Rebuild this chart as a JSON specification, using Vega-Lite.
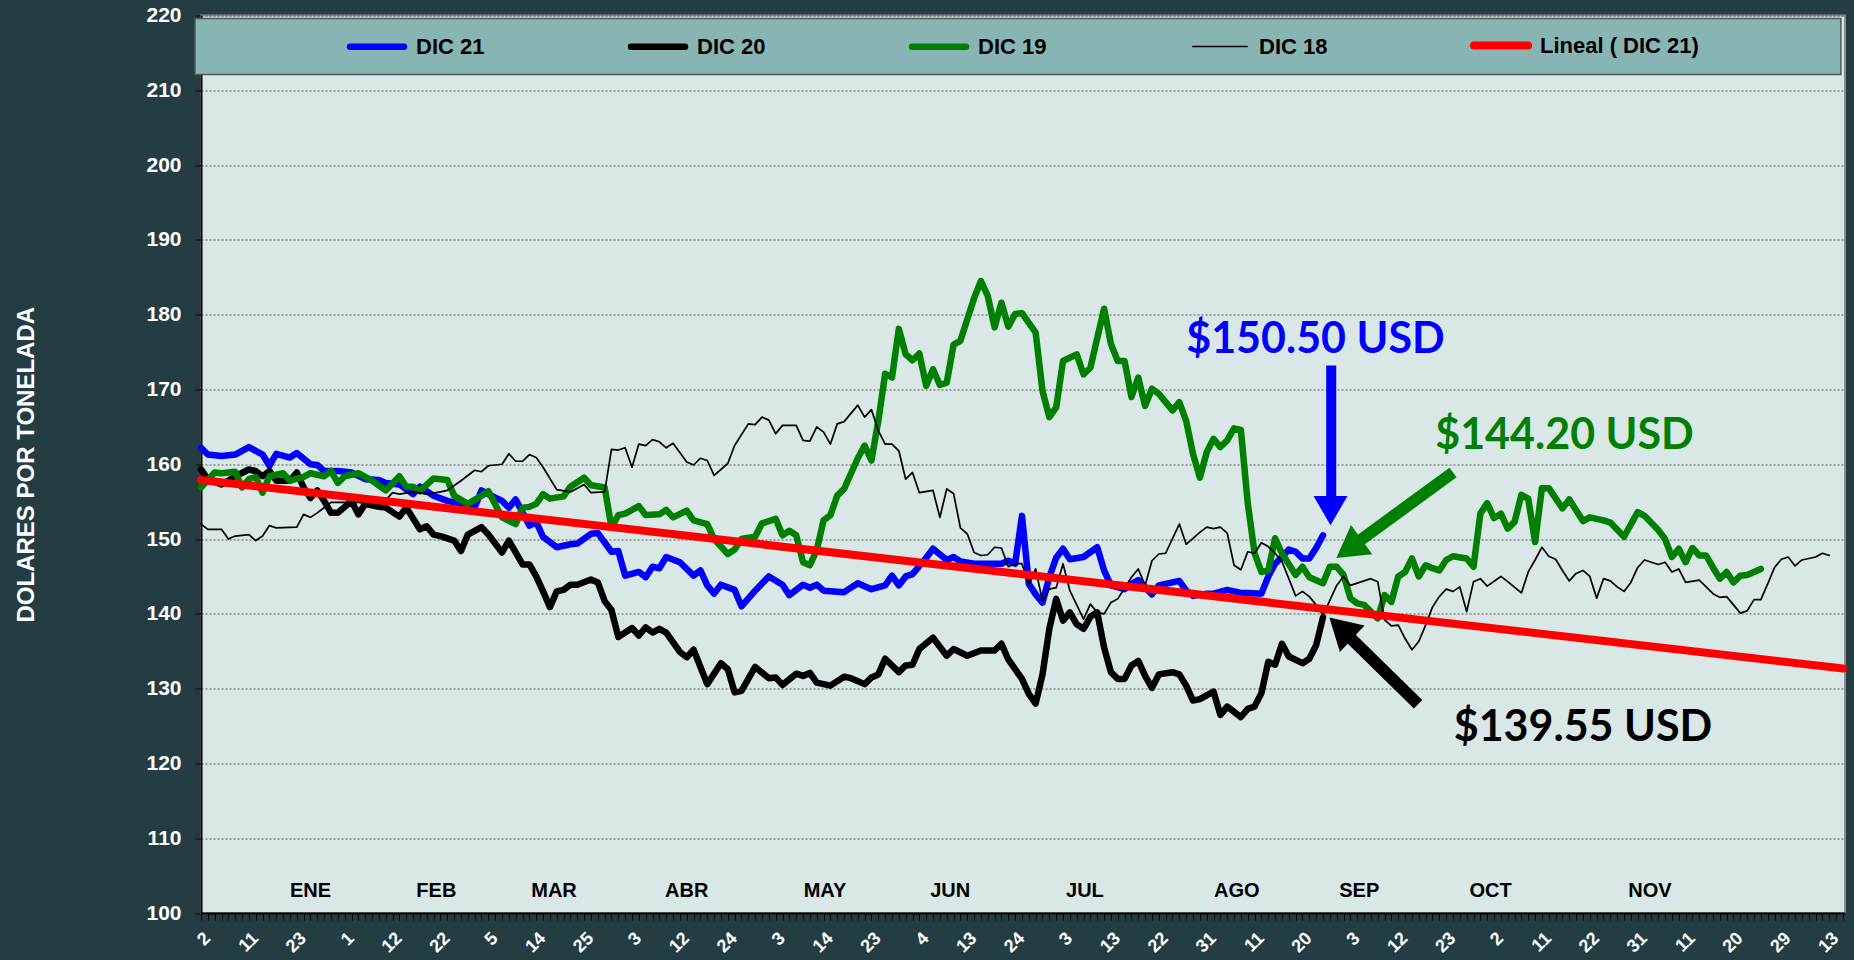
{
  "$schema": "https://vega.github.io/schema/vega-lite/v6.json",
  "autosize": {"type": "none"},
  "width": 1644,
  "height": 897.5,
  "padding": {"left": 201, "top": 15.5, "right": 9, "bottom": 47},
  "background": "#233d42",
  "config": {
    "font": "Liberation Sans",
    "view": {"fill": "#d9e7e6", "stroke": "#8c8c8c", "strokeWidth": 2},
    "axisX": {"labelOverlap": false, "grid": false, "labelFlush": false, "labelBound": false, "tickCount": 1000},
    "legend": {
      "orient": "none", "legendX": 145, "legendY": -1, "direction": "horizontal", "columns": 5,
      "gridAlign": "all", "columnPadding": 40, "symbolType": "stroke", "symbolSize": 2916,
      "labelFont": "Liberation Sans", "labelFontSize": 22, "labelFontWeight": "bold", "labelColor": "#000000",
      "labelOffset": 8, "padding": 0, "labelLimit": 400
    }
  },
  "data": {"values": [
    {"s":"DIC 21","i":0,"v":162.2},{"s":"DIC 21","i":1,"v":161.3},{"s":"DIC 21","i":3,"v":161.1},{"s":"DIC 21","i":5,"v":161.3},{"s":"DIC 21","i":7,"v":162.3},{"s":"DIC 21","i":9,"v":161.3},{"s":"DIC 21","i":10,"v":159.8},{"s":"DIC 21","i":11,"v":161.4},{"s":"DIC 21","i":13,"v":160.9},{"s":"DIC 21","i":14,"v":161.5},{"s":"DIC 21","i":16,"v":160.0},{"s":"DIC 21","i":17,"v":159.9},{"s":"DIC 21","i":18,"v":159.1},{"s":"DIC 21","i":20,"v":159.1},{"s":"DIC 21","i":22,"v":158.9},{"s":"DIC 21","i":24,"v":158.0},{"s":"DIC 21","i":26,"v":157.9},{"s":"DIC 21","i":27,"v":157.5},{"s":"DIC 21","i":29,"v":157.3},{"s":"DIC 21","i":31,"v":156.0},{"s":"DIC 21","i":32,"v":157.0},{"s":"DIC 21","i":34,"v":155.8},{"s":"DIC 21","i":36,"v":155.1},{"s":"DIC 21","i":38,"v":154.7},{"s":"DIC 21","i":40,"v":154.2},{"s":"DIC 21","i":41,"v":156.5},{"s":"DIC 21","i":42,"v":156.0},{"s":"DIC 21","i":44,"v":155.1},{"s":"DIC 21","i":45,"v":154.2},{"s":"DIC 21","i":46,"v":155.3},{"s":"DIC 21","i":48,"v":151.8},{"s":"DIC 21","i":49,"v":152.3},{"s":"DIC 21","i":50,"v":150.3},{"s":"DIC 21","i":52,"v":148.9},{"s":"DIC 21","i":54,"v":149.3},{"s":"DIC 21","i":55,"v":149.4},{"s":"DIC 21","i":57,"v":150.7},{"s":"DIC 21","i":58,"v":150.8},{"s":"DIC 21","i":60,"v":148.3},{"s":"DIC 21","i":61,"v":148.4},{"s":"DIC 21","i":62,"v":145.1},{"s":"DIC 21","i":64,"v":145.6},{"s":"DIC 21","i":65,"v":144.9},{"s":"DIC 21","i":66,"v":146.3},{"s":"DIC 21","i":67,"v":146.1},{"s":"DIC 21","i":68,"v":147.6},{"s":"DIC 21","i":70,"v":146.9},{"s":"DIC 21","i":72,"v":145.1},{"s":"DIC 21","i":73,"v":145.8},{"s":"DIC 21","i":74,"v":143.8},{"s":"DIC 21","i":75,"v":142.7},{"s":"DIC 21","i":76,"v":143.9},{"s":"DIC 21","i":78,"v":143.2},{"s":"DIC 21","i":79,"v":141.0},{"s":"DIC 21","i":81,"v":143.1},{"s":"DIC 21","i":83,"v":145.0},{"s":"DIC 21","i":85,"v":143.9},{"s":"DIC 21","i":86,"v":142.5},{"s":"DIC 21","i":88,"v":143.9},{"s":"DIC 21","i":89,"v":143.5},{"s":"DIC 21","i":90,"v":143.9},{"s":"DIC 21","i":91,"v":143.1},{"s":"DIC 21","i":94,"v":142.9},{"s":"DIC 21","i":96,"v":144.1},{"s":"DIC 21","i":98,"v":143.3},{"s":"DIC 21","i":100,"v":143.8},{"s":"DIC 21","i":101,"v":145.1},{"s":"DIC 21","i":102,"v":143.8},{"s":"DIC 21","i":103,"v":145.0},{"s":"DIC 21","i":104,"v":145.3},{"s":"DIC 21","i":106,"v":147.5},{"s":"DIC 21","i":107,"v":148.7},{"s":"DIC 21","i":109,"v":147.2},{"s":"DIC 21","i":110,"v":147.6},{"s":"DIC 21","i":111,"v":147.0},{"s":"DIC 21","i":113,"v":146.7},{"s":"DIC 21","i":115,"v":146.7},{"s":"DIC 21","i":117,"v":146.7},{"s":"DIC 21","i":118,"v":147.1},{"s":"DIC 21","i":119,"v":146.7},{"s":"DIC 21","i":120,"v":153.1},{"s":"DIC 21","i":121,"v":144.0},{"s":"DIC 21","i":122,"v":142.6},{"s":"DIC 21","i":123,"v":141.5},{"s":"DIC 21","i":124,"v":144.9},{"s":"DIC 21","i":125,"v":147.5},{"s":"DIC 21","i":126,"v":148.7},{"s":"DIC 21","i":127,"v":147.3},{"s":"DIC 21","i":129,"v":147.6},{"s":"DIC 21","i":131,"v":148.9},{"s":"DIC 21","i":132,"v":145.8},{"s":"DIC 21","i":133,"v":143.8},{"s":"DIC 21","i":135,"v":143.3},{"s":"DIC 21","i":136,"v":144.0},{"s":"DIC 21","i":137,"v":144.5},{"s":"DIC 21","i":139,"v":142.6},{"s":"DIC 21","i":140,"v":143.8},{"s":"DIC 21","i":143,"v":144.4},{"s":"DIC 21","i":144,"v":143.1},{"s":"DIC 21","i":145,"v":142.4},{"s":"DIC 21","i":147,"v":142.7},{"s":"DIC 21","i":148,"v":142.7},{"s":"DIC 21","i":150,"v":143.2},{"s":"DIC 21","i":152,"v":142.8},{"s":"DIC 21","i":153,"v":142.8},{"s":"DIC 21","i":155,"v":142.7},{"s":"DIC 21","i":156,"v":145.0},{"s":"DIC 21","i":157,"v":146.7},{"s":"DIC 21","i":158,"v":147.6},{"s":"DIC 21","i":159,"v":148.6},{"s":"DIC 21","i":160,"v":148.3},{"s":"DIC 21","i":161,"v":147.4},{"s":"DIC 21","i":162,"v":147.4},{"s":"DIC 21","i":163,"v":148.8},{"s":"DIC 21","i":164,"v":150.5},
    {"s":"DIC 20","i":0,"v":159.3},{"s":"DIC 20","i":1,"v":158.0},{"s":"DIC 20","i":3,"v":157.3},{"s":"DIC 20","i":4,"v":157.8},{"s":"DIC 20","i":5,"v":158.4},{"s":"DIC 20","i":7,"v":159.3},{"s":"DIC 20","i":8,"v":159.1},{"s":"DIC 20","i":9,"v":158.4},{"s":"DIC 20","i":10,"v":159.1},{"s":"DIC 20","i":11,"v":157.8},{"s":"DIC 20","i":13,"v":157.8},{"s":"DIC 20","i":14,"v":158.9},{"s":"DIC 20","i":15,"v":156.9},{"s":"DIC 20","i":16,"v":155.5},{"s":"DIC 20","i":17,"v":156.5},{"s":"DIC 20","i":18,"v":155.1},{"s":"DIC 20","i":19,"v":153.5},{"s":"DIC 20","i":20,"v":153.5},{"s":"DIC 20","i":22,"v":155.1},{"s":"DIC 20","i":23,"v":153.3},{"s":"DIC 20","i":24,"v":154.7},{"s":"DIC 20","i":26,"v":154.3},{"s":"DIC 20","i":27,"v":154.2},{"s":"DIC 20","i":29,"v":153.0},{"s":"DIC 20","i":30,"v":154.2},{"s":"DIC 20","i":32,"v":151.3},{"s":"DIC 20","i":33,"v":151.7},{"s":"DIC 20","i":34,"v":150.6},{"s":"DIC 20","i":35,"v":150.4},{"s":"DIC 20","i":37,"v":149.8},{"s":"DIC 20","i":38,"v":148.4},{"s":"DIC 20","i":39,"v":150.6},{"s":"DIC 20","i":41,"v":151.6},{"s":"DIC 20","i":42,"v":150.6},{"s":"DIC 20","i":44,"v":148.2},{"s":"DIC 20","i":45,"v":149.8},{"s":"DIC 20","i":47,"v":146.6},{"s":"DIC 20","i":48,"v":146.6},{"s":"DIC 20","i":49,"v":145.0},{"s":"DIC 20","i":50,"v":143.0},{"s":"DIC 20","i":51,"v":140.9},{"s":"DIC 20","i":52,"v":143.0},{"s":"DIC 20","i":53,"v":143.2},{"s":"DIC 20","i":54,"v":143.9},{"s":"DIC 20","i":55,"v":143.9},{"s":"DIC 20","i":57,"v":144.6},{"s":"DIC 20","i":58,"v":144.2},{"s":"DIC 20","i":59,"v":141.7},{"s":"DIC 20","i":60,"v":140.5},{"s":"DIC 20","i":61,"v":136.9},{"s":"DIC 20","i":63,"v":138.1},{"s":"DIC 20","i":64,"v":137.1},{"s":"DIC 20","i":65,"v":138.2},{"s":"DIC 20","i":66,"v":137.5},{"s":"DIC 20","i":67,"v":138.0},{"s":"DIC 20","i":68,"v":137.5},{"s":"DIC 20","i":70,"v":134.9},{"s":"DIC 20","i":71,"v":134.2},{"s":"DIC 20","i":72,"v":135.2},{"s":"DIC 20","i":74,"v":130.6},{"s":"DIC 20","i":76,"v":133.4},{"s":"DIC 20","i":77,"v":132.6},{"s":"DIC 20","i":78,"v":129.5},{"s":"DIC 20","i":79,"v":129.7},{"s":"DIC 20","i":81,"v":132.9},{"s":"DIC 20","i":83,"v":131.4},{"s":"DIC 20","i":84,"v":131.5},{"s":"DIC 20","i":85,"v":130.5},{"s":"DIC 20","i":87,"v":132.0},{"s":"DIC 20","i":88,"v":131.7},{"s":"DIC 20","i":89,"v":132.1},{"s":"DIC 20","i":90,"v":130.8},{"s":"DIC 20","i":92,"v":130.4},{"s":"DIC 20","i":94,"v":131.6},{"s":"DIC 20","i":95,"v":131.4},{"s":"DIC 20","i":97,"v":130.6},{"s":"DIC 20","i":98,"v":131.5},{"s":"DIC 20","i":99,"v":131.9},{"s":"DIC 20","i":100,"v":134.0},{"s":"DIC 20","i":102,"v":132.2},{"s":"DIC 20","i":103,"v":133.1},{"s":"DIC 20","i":104,"v":133.2},{"s":"DIC 20","i":105,"v":135.3},{"s":"DIC 20","i":107,"v":136.8},{"s":"DIC 20","i":109,"v":134.4},{"s":"DIC 20","i":110,"v":135.3},{"s":"DIC 20","i":112,"v":134.4},{"s":"DIC 20","i":114,"v":135.1},{"s":"DIC 20","i":116,"v":135.1},{"s":"DIC 20","i":117,"v":136.0},{"s":"DIC 20","i":118,"v":133.9},{"s":"DIC 20","i":120,"v":131.3},{"s":"DIC 20","i":121,"v":129.3},{"s":"DIC 20","i":122,"v":128.0},{"s":"DIC 20","i":123,"v":131.9},{"s":"DIC 20","i":124,"v":138.0},{"s":"DIC 20","i":125,"v":142.0},{"s":"DIC 20","i":126,"v":139.1},{"s":"DIC 20","i":127,"v":140.2},{"s":"DIC 20","i":128,"v":138.6},{"s":"DIC 20","i":129,"v":138.0},{"s":"DIC 20","i":130,"v":139.6},{"s":"DIC 20","i":131,"v":140.2},{"s":"DIC 20","i":132,"v":135.5},{"s":"DIC 20","i":133,"v":132.2},{"s":"DIC 20","i":134,"v":131.3},{"s":"DIC 20","i":135,"v":131.3},{"s":"DIC 20","i":136,"v":133.1},{"s":"DIC 20","i":137,"v":133.7},{"s":"DIC 20","i":138,"v":131.7},{"s":"DIC 20","i":139,"v":130.1},{"s":"DIC 20","i":140,"v":131.9},{"s":"DIC 20","i":142,"v":132.2},{"s":"DIC 20","i":143,"v":131.9},{"s":"DIC 20","i":144,"v":130.4},{"s":"DIC 20","i":145,"v":128.4},{"s":"DIC 20","i":146,"v":128.6},{"s":"DIC 20","i":148,"v":129.6},{"s":"DIC 20","i":149,"v":126.5},{"s":"DIC 20","i":150,"v":127.6},{"s":"DIC 20","i":152,"v":126.2},{"s":"DIC 20","i":153,"v":127.3},{"s":"DIC 20","i":154,"v":127.6},{"s":"DIC 20","i":155,"v":129.4},{"s":"DIC 20","i":156,"v":133.6},{"s":"DIC 20","i":157,"v":133.2},{"s":"DIC 20","i":158,"v":136.0},{"s":"DIC 20","i":159,"v":134.3},{"s":"DIC 20","i":161,"v":133.4},{"s":"DIC 20","i":162,"v":134.0},{"s":"DIC 20","i":163,"v":135.8},{"s":"DIC 20","i":164,"v":139.55},
    {"s":"DIC 19","i":0,"v":156.9},{"s":"DIC 19","i":2,"v":158.9},{"s":"DIC 19","i":3,"v":158.8},{"s":"DIC 19","i":5,"v":159.0},{"s":"DIC 19","i":6,"v":156.9},{"s":"DIC 19","i":7,"v":158.0},{"s":"DIC 19","i":8,"v":158.3},{"s":"DIC 19","i":9,"v":156.2},{"s":"DIC 19","i":10,"v":158.4},{"s":"DIC 19","i":12,"v":158.8},{"s":"DIC 19","i":13,"v":157.8},{"s":"DIC 19","i":15,"v":158.3},{"s":"DIC 19","i":16,"v":158.8},{"s":"DIC 19","i":18,"v":158.4},{"s":"DIC 19","i":19,"v":159.1},{"s":"DIC 19","i":20,"v":157.5},{"s":"DIC 19","i":21,"v":158.4},{"s":"DIC 19","i":23,"v":158.8},{"s":"DIC 19","i":25,"v":157.8},{"s":"DIC 19","i":27,"v":156.5},{"s":"DIC 19","i":29,"v":158.4},{"s":"DIC 19","i":30,"v":157.0},{"s":"DIC 19","i":31,"v":157.0},{"s":"DIC 19","i":32,"v":156.4},{"s":"DIC 19","i":34,"v":158.1},{"s":"DIC 19","i":36,"v":157.9},{"s":"DIC 19","i":37,"v":155.8},{"s":"DIC 19","i":39,"v":154.7},{"s":"DIC 19","i":41,"v":155.8},{"s":"DIC 19","i":42,"v":156.4},{"s":"DIC 19","i":44,"v":152.9},{"s":"DIC 19","i":46,"v":152.0},{"s":"DIC 19","i":47,"v":154.2},{"s":"DIC 19","i":48,"v":154.3},{"s":"DIC 19","i":49,"v":154.7},{"s":"DIC 19","i":50,"v":156.0},{"s":"DIC 19","i":51,"v":155.4},{"s":"DIC 19","i":53,"v":155.7},{"s":"DIC 19","i":54,"v":157.0},{"s":"DIC 19","i":56,"v":158.2},{"s":"DIC 19","i":57,"v":157.2},{"s":"DIC 19","i":59,"v":156.9},{"s":"DIC 19","i":60,"v":151.6},{"s":"DIC 19","i":61,"v":153.2},{"s":"DIC 19","i":62,"v":153.4},{"s":"DIC 19","i":64,"v":154.4},{"s":"DIC 19","i":65,"v":153.2},{"s":"DIC 19","i":67,"v":153.3},{"s":"DIC 19","i":68,"v":153.9},{"s":"DIC 19","i":69,"v":152.9},{"s":"DIC 19","i":71,"v":153.8},{"s":"DIC 19","i":72,"v":152.5},{"s":"DIC 19","i":74,"v":152.0},{"s":"DIC 19","i":75,"v":150.0},{"s":"DIC 19","i":77,"v":148.0},{"s":"DIC 19","i":78,"v":148.6},{"s":"DIC 19","i":79,"v":150.0},{"s":"DIC 19","i":81,"v":150.3},{"s":"DIC 19","i":82,"v":152.1},{"s":"DIC 19","i":84,"v":152.7},{"s":"DIC 19","i":85,"v":150.5},{"s":"DIC 19","i":86,"v":151.1},{"s":"DIC 19","i":87,"v":150.5},{"s":"DIC 19","i":88,"v":146.9},{"s":"DIC 19","i":89,"v":146.5},{"s":"DIC 19","i":90,"v":148.5},{"s":"DIC 19","i":91,"v":152.5},{"s":"DIC 19","i":92,"v":153.2},{"s":"DIC 19","i":93,"v":155.8},{"s":"DIC 19","i":94,"v":156.7},{"s":"DIC 19","i":96,"v":160.8},{"s":"DIC 19","i":97,"v":162.5},{"s":"DIC 19","i":98,"v":160.5},{"s":"DIC 19","i":99,"v":165.8},{"s":"DIC 19","i":100,"v":172.1},{"s":"DIC 19","i":101,"v":171.6},{"s":"DIC 19","i":102,"v":178.1},{"s":"DIC 19","i":103,"v":174.7},{"s":"DIC 19","i":104,"v":173.9},{"s":"DIC 19","i":105,"v":174.8},{"s":"DIC 19","i":106,"v":170.5},{"s":"DIC 19","i":107,"v":172.7},{"s":"DIC 19","i":108,"v":170.6},{"s":"DIC 19","i":109,"v":170.9},{"s":"DIC 19","i":110,"v":176.0},{"s":"DIC 19","i":111,"v":176.5},{"s":"DIC 19","i":113,"v":182.2},{"s":"DIC 19","i":114,"v":184.5},{"s":"DIC 19","i":115,"v":182.5},{"s":"DIC 19","i":116,"v":178.3},{"s":"DIC 19","i":117,"v":181.6},{"s":"DIC 19","i":118,"v":178.4},{"s":"DIC 19","i":119,"v":180.1},{"s":"DIC 19","i":120,"v":180.2},{"s":"DIC 19","i":122,"v":177.6},{"s":"DIC 19","i":123,"v":169.8},{"s":"DIC 19","i":124,"v":166.3},{"s":"DIC 19","i":125,"v":167.6},{"s":"DIC 19","i":126,"v":173.8},{"s":"DIC 19","i":128,"v":174.7},{"s":"DIC 19","i":129,"v":172.0},{"s":"DIC 19","i":130,"v":172.9},{"s":"DIC 19","i":132,"v":180.8},{"s":"DIC 19","i":133,"v":176.1},{"s":"DIC 19","i":134,"v":173.8},{"s":"DIC 19","i":135,"v":173.8},{"s":"DIC 19","i":136,"v":169.0},{"s":"DIC 19","i":137,"v":171.6},{"s":"DIC 19","i":138,"v":167.8},{"s":"DIC 19","i":139,"v":170.1},{"s":"DIC 19","i":140,"v":169.4},{"s":"DIC 19","i":142,"v":167.2},{"s":"DIC 19","i":143,"v":168.3},{"s":"DIC 19","i":144,"v":165.8},{"s":"DIC 19","i":145,"v":161.4},{"s":"DIC 19","i":146,"v":158.2},{"s":"DIC 19","i":147,"v":161.6},{"s":"DIC 19","i":148,"v":163.4},{"s":"DIC 19","i":149,"v":162.3},{"s":"DIC 19","i":150,"v":163.2},{"s":"DIC 19","i":151,"v":164.8},{"s":"DIC 19","i":152,"v":164.6},{"s":"DIC 19","i":153,"v":154.8},{"s":"DIC 19","i":154,"v":148.1},{"s":"DIC 19","i":155,"v":145.6},{"s":"DIC 19","i":156,"v":145.8},{"s":"DIC 19","i":157,"v":150.1},{"s":"DIC 19","i":158,"v":148.1},{"s":"DIC 19","i":160,"v":145.2},{"s":"DIC 19","i":161,"v":146.3},{"s":"DIC 19","i":162,"v":144.9},{"s":"DIC 19","i":164,"v":144.1},{"s":"DIC 19","i":165,"v":146.3},{"s":"DIC 19","i":166,"v":146.3},{"s":"DIC 19","i":167,"v":145.2},{"s":"DIC 19","i":168,"v":142.1},{"s":"DIC 19","i":169,"v":141.4},{"s":"DIC 19","i":170,"v":141.2},{"s":"DIC 19","i":171,"v":140.3},{"s":"DIC 19","i":172,"v":139.4},{"s":"DIC 19","i":173,"v":142.5},{"s":"DIC 19","i":174,"v":141.6},{"s":"DIC 19","i":175,"v":145.0},{"s":"DIC 19","i":176,"v":145.6},{"s":"DIC 19","i":177,"v":147.4},{"s":"DIC 19","i":178,"v":145.0},{"s":"DIC 19","i":179,"v":146.5},{"s":"DIC 19","i":180,"v":146.1},{"s":"DIC 19","i":181,"v":145.8},{"s":"DIC 19","i":182,"v":147.2},{"s":"DIC 19","i":183,"v":147.7},{"s":"DIC 19","i":185,"v":147.4},{"s":"DIC 19","i":186,"v":146.3},{"s":"DIC 19","i":187,"v":153.4},{"s":"DIC 19","i":188,"v":154.8},{"s":"DIC 19","i":189,"v":152.8},{"s":"DIC 19","i":190,"v":153.4},{"s":"DIC 19","i":191,"v":151.4},{"s":"DIC 19","i":192,"v":152.3},{"s":"DIC 19","i":193,"v":155.9},{"s":"DIC 19","i":194,"v":155.4},{"s":"DIC 19","i":195,"v":149.6},{"s":"DIC 19","i":196,"v":156.8},{"s":"DIC 19","i":197,"v":156.8},{"s":"DIC 19","i":199,"v":154.1},{"s":"DIC 19","i":200,"v":155.3},{"s":"DIC 19","i":202,"v":152.4},{"s":"DIC 19","i":203,"v":152.9},{"s":"DIC 19","i":205,"v":152.5},{"s":"DIC 19","i":206,"v":152.2},{"s":"DIC 19","i":208,"v":150.3},{"s":"DIC 19","i":210,"v":153.6},{"s":"DIC 19","i":211,"v":153.1},{"s":"DIC 19","i":213,"v":151.2},{"s":"DIC 19","i":214,"v":150.0},{"s":"DIC 19","i":215,"v":147.6},{"s":"DIC 19","i":216,"v":148.7},{"s":"DIC 19","i":217,"v":146.9},{"s":"DIC 19","i":218,"v":148.8},{"s":"DIC 19","i":219,"v":147.8},{"s":"DIC 19","i":220,"v":147.8},{"s":"DIC 19","i":221,"v":146.2},{"s":"DIC 19","i":222,"v":144.7},{"s":"DIC 19","i":223,"v":145.6},{"s":"DIC 19","i":224,"v":144.2},{"s":"DIC 19","i":225,"v":145.1},{"s":"DIC 19","i":226,"v":145.2},{"s":"DIC 19","i":228,"v":146.0},
    {"s":"DIC 18","i":0,"v":152.0},{"s":"DIC 18","i":1,"v":151.3},{"s":"DIC 18","i":3,"v":151.3},{"s":"DIC 18","i":4,"v":150.0},{"s":"DIC 18","i":5,"v":150.4},{"s":"DIC 18","i":7,"v":150.6},{"s":"DIC 18","i":8,"v":149.8},{"s":"DIC 18","i":9,"v":150.4},{"s":"DIC 18","i":10,"v":151.8},{"s":"DIC 18","i":11,"v":151.5},{"s":"DIC 18","i":14,"v":151.6},{"s":"DIC 18","i":15,"v":153.3},{"s":"DIC 18","i":16,"v":152.9},{"s":"DIC 18","i":17,"v":153.5},{"s":"DIC 18","i":19,"v":154.9},{"s":"DIC 18","i":21,"v":154.9},{"s":"DIC 18","i":23,"v":154.9},{"s":"DIC 18","i":25,"v":154.7},{"s":"DIC 18","i":26,"v":154.2},{"s":"DIC 18","i":28,"v":156.2},{"s":"DIC 18","i":29,"v":156.0},{"s":"DIC 18","i":31,"v":156.3},{"s":"DIC 18","i":33,"v":156.0},{"s":"DIC 18","i":35,"v":156.3},{"s":"DIC 18","i":36,"v":156.5},{"s":"DIC 18","i":38,"v":157.8},{"s":"DIC 18","i":40,"v":159.2},{"s":"DIC 18","i":41,"v":159.0},{"s":"DIC 18","i":42,"v":159.8},{"s":"DIC 18","i":44,"v":160.0},{"s":"DIC 18","i":45,"v":161.4},{"s":"DIC 18","i":46,"v":160.4},{"s":"DIC 18","i":47,"v":160.4},{"s":"DIC 18","i":48,"v":161.3},{"s":"DIC 18","i":49,"v":160.9},{"s":"DIC 18","i":50,"v":159.6},{"s":"DIC 18","i":52,"v":156.6},{"s":"DIC 18","i":54,"v":156.3},{"s":"DIC 18","i":56,"v":157.3},{"s":"DIC 18","i":57,"v":156.2},{"s":"DIC 18","i":59,"v":156.3},{"s":"DIC 18","i":60,"v":162.0},{"s":"DIC 18","i":61,"v":161.9},{"s":"DIC 18","i":62,"v":162.2},{"s":"DIC 18","i":63,"v":159.6},{"s":"DIC 18","i":64,"v":162.7},{"s":"DIC 18","i":65,"v":162.5},{"s":"DIC 18","i":66,"v":163.3},{"s":"DIC 18","i":67,"v":163.0},{"s":"DIC 18","i":68,"v":162.2},{"s":"DIC 18","i":69,"v":162.8},{"s":"DIC 18","i":71,"v":160.3},{"s":"DIC 18","i":72,"v":159.9},{"s":"DIC 18","i":73,"v":160.8},{"s":"DIC 18","i":74,"v":160.5},{"s":"DIC 18","i":75,"v":158.5},{"s":"DIC 18","i":77,"v":160.1},{"s":"DIC 18","i":78,"v":162.5},{"s":"DIC 18","i":80,"v":165.4},{"s":"DIC 18","i":81,"v":165.3},{"s":"DIC 18","i":82,"v":166.3},{"s":"DIC 18","i":83,"v":165.9},{"s":"DIC 18","i":84,"v":164.1},{"s":"DIC 18","i":85,"v":165.2},{"s":"DIC 18","i":87,"v":165.2},{"s":"DIC 18","i":88,"v":163.2},{"s":"DIC 18","i":89,"v":163.1},{"s":"DIC 18","i":90,"v":165.0},{"s":"DIC 18","i":91,"v":164.3},{"s":"DIC 18","i":92,"v":162.7},{"s":"DIC 18","i":93,"v":165.4},{"s":"DIC 18","i":94,"v":165.7},{"s":"DIC 18","i":96,"v":167.9},{"s":"DIC 18","i":97,"v":166.3},{"s":"DIC 18","i":98,"v":167.3},{"s":"DIC 18","i":99,"v":164.5},{"s":"DIC 18","i":100,"v":162.7},{"s":"DIC 18","i":101,"v":162.7},{"s":"DIC 18","i":102,"v":161.8},{"s":"DIC 18","i":103,"v":158.0},{"s":"DIC 18","i":104,"v":158.9},{"s":"DIC 18","i":105,"v":156.2},{"s":"DIC 18","i":107,"v":156.5},{"s":"DIC 18","i":108,"v":152.9},{"s":"DIC 18","i":109,"v":156.7},{"s":"DIC 18","i":110,"v":156.1},{"s":"DIC 18","i":111,"v":151.5},{"s":"DIC 18","i":112,"v":150.7},{"s":"DIC 18","i":113,"v":148.2},{"s":"DIC 18","i":114,"v":147.8},{"s":"DIC 18","i":115,"v":147.9},{"s":"DIC 18","i":116,"v":148.9},{"s":"DIC 18","i":117,"v":148.8},{"s":"DIC 18","i":118,"v":146.3},{"s":"DIC 18","i":119,"v":146.7},{"s":"DIC 18","i":120,"v":146.7},{"s":"DIC 18","i":121,"v":144.0},{"s":"DIC 18","i":122,"v":146.0},{"s":"DIC 18","i":123,"v":141.7},{"s":"DIC 18","i":124,"v":143.3},{"s":"DIC 18","i":125,"v":143.5},{"s":"DIC 18","i":126,"v":146.7},{"s":"DIC 18","i":127,"v":143.1},{"s":"DIC 18","i":129,"v":139.3},{"s":"DIC 18","i":130,"v":141.3},{"s":"DIC 18","i":131,"v":140.2},{"s":"DIC 18","i":132,"v":140.0},{"s":"DIC 18","i":133,"v":141.5},{"s":"DIC 18","i":134,"v":142.0},{"s":"DIC 18","i":136,"v":144.9},{"s":"DIC 18","i":137,"v":146.0},{"s":"DIC 18","i":138,"v":143.8},{"s":"DIC 18","i":139,"v":147.1},{"s":"DIC 18","i":140,"v":148.0},{"s":"DIC 18","i":141,"v":148.1},{"s":"DIC 18","i":143,"v":152.0},{"s":"DIC 18","i":144,"v":149.3},{"s":"DIC 18","i":146,"v":150.9},{"s":"DIC 18","i":147,"v":151.6},{"s":"DIC 18","i":148,"v":151.4},{"s":"DIC 18","i":149,"v":151.6},{"s":"DIC 18","i":150,"v":150.8},{"s":"DIC 18","i":151,"v":146.5},{"s":"DIC 18","i":152,"v":145.9},{"s":"DIC 18","i":153,"v":148.3},{"s":"DIC 18","i":154,"v":148.1},{"s":"DIC 18","i":155,"v":149.5},{"s":"DIC 18","i":156,"v":149.0},{"s":"DIC 18","i":157,"v":148.1},{"s":"DIC 18","i":158,"v":147.0},{"s":"DIC 18","i":159,"v":144.7},{"s":"DIC 18","i":160,"v":142.4},{"s":"DIC 18","i":161,"v":143.0},{"s":"DIC 18","i":162,"v":142.3},{"s":"DIC 18","i":163,"v":141.2},{"s":"DIC 18","i":164,"v":139.8},{"s":"DIC 18","i":165,"v":141.8},{"s":"DIC 18","i":166,"v":143.8},{"s":"DIC 18","i":167,"v":145.0},{"s":"DIC 18","i":168,"v":143.8},{"s":"DIC 18","i":170,"v":144.4},{"s":"DIC 18","i":171,"v":144.7},{"s":"DIC 18","i":172,"v":144.3},{"s":"DIC 18","i":173,"v":139.2},{"s":"DIC 18","i":174,"v":138.4},{"s":"DIC 18","i":175,"v":138.5},{"s":"DIC 18","i":176,"v":136.7},{"s":"DIC 18","i":177,"v":135.2},{"s":"DIC 18","i":178,"v":136.3},{"s":"DIC 18","i":179,"v":138.5},{"s":"DIC 18","i":180,"v":140.9},{"s":"DIC 18","i":181,"v":142.3},{"s":"DIC 18","i":182,"v":143.3},{"s":"DIC 18","i":183,"v":143.0},{"s":"DIC 18","i":184,"v":143.6},{"s":"DIC 18","i":185,"v":140.3},{"s":"DIC 18","i":186,"v":144.3},{"s":"DIC 18","i":187,"v":144.7},{"s":"DIC 18","i":188,"v":143.7},{"s":"DIC 18","i":190,"v":145.0},{"s":"DIC 18","i":191,"v":144.3},{"s":"DIC 18","i":193,"v":142.8},{"s":"DIC 18","i":194,"v":145.6},{"s":"DIC 18","i":195,"v":147.2},{"s":"DIC 18","i":196,"v":148.9},{"s":"DIC 18","i":197,"v":147.7},{"s":"DIC 18","i":198,"v":147.3},{"s":"DIC 18","i":199,"v":145.8},{"s":"DIC 18","i":200,"v":144.4},{"s":"DIC 18","i":201,"v":145.4},{"s":"DIC 18","i":202,"v":145.8},{"s":"DIC 18","i":203,"v":145.0},{"s":"DIC 18","i":204,"v":142.1},{"s":"DIC 18","i":205,"v":144.7},{"s":"DIC 18","i":206,"v":144.4},{"s":"DIC 18","i":207,"v":143.6},{"s":"DIC 18","i":208,"v":143.0},{"s":"DIC 18","i":209,"v":144.2},{"s":"DIC 18","i":210,"v":146.2},{"s":"DIC 18","i":211,"v":147.2},{"s":"DIC 18","i":212,"v":146.9},{"s":"DIC 18","i":213,"v":146.6},{"s":"DIC 18","i":214,"v":146.9},{"s":"DIC 18","i":215,"v":145.6},{"s":"DIC 18","i":216,"v":146.0},{"s":"DIC 18","i":217,"v":144.2},{"s":"DIC 18","i":219,"v":144.5},{"s":"DIC 18","i":221,"v":142.7},{"s":"DIC 18","i":222,"v":142.2},{"s":"DIC 18","i":223,"v":142.3},{"s":"DIC 18","i":224,"v":141.2},{"s":"DIC 18","i":225,"v":140.1},{"s":"DIC 18","i":226,"v":140.4},{"s":"DIC 18","i":227,"v":141.9},{"s":"DIC 18","i":228,"v":141.9},{"s":"DIC 18","i":229,"v":144.0},{"s":"DIC 18","i":230,"v":146.2},{"s":"DIC 18","i":231,"v":147.3},{"s":"DIC 18","i":232,"v":147.6},{"s":"DIC 18","i":233,"v":146.4},{"s":"DIC 18","i":234,"v":147.2},{"s":"DIC 18","i":236,"v":147.6},{"s":"DIC 18","i":237,"v":148.1},{"s":"DIC 18","i":238,"v":147.8},
    {"s":"Lineal ( DIC 21)","i":0,"v":157.9},{"s":"Lineal ( DIC 21)","i":240,"v":132.7}
  ]},
  "layer": [
    {
      "mark": {"type": "line", "strokeJoin": "round", "strokeCap": "round"},
      "encoding": {
        "x": {
          "field": "i", "type": "quantitative",
          "scale": {"domain": [0, 240.3], "nice": false, "zero": false},
          "axis": {
            "title": null, "grid": false, "domainColor": "#000000", "domainWidth": 2,
            "tickColor": "#000000", "tickSize": 7, "tickWidth": 1, "tickCount": 1000,
            "values": [0,1,2,3,4,5,6,7,8,9,10,11,12,13,14,15,16,17,18,19,20,21,22,23,24,25,26,27,28,29,30,31,32,33,34,35,36,37,38,39,40,41,42,43,44,45,46,47,48,49,50,51,52,53,54,55,56,57,58,59,60,61,62,63,64,65,66,67,68,69,70,71,72,73,74,75,76,77,78,79,80,81,82,83,84,85,86,87,88,89,90,91,92,93,94,95,96,97,98,99,100,101,102,103,104,105,106,107,108,109,110,111,112,113,114,115,116,117,118,119,120,121,122,123,124,125,126,127,128,129,130,131,132,133,134,135,136,137,138,139,140,141,142,143,144,145,146,147,148,149,150,151,152,153,154,155,156,157,158,159,160,161,162,163,164,165,166,167,168,169,170,171,172,173,174,175,176,177,178,179,180,181,182,183,184,185,186,187,188,189,190,191,192,193,194,195,196,197,198,199,200,201,202,203,204,205,206,207,208,209,210,211,212,213,214,215,216,217,218,219,220,221,222,223,224,225,226,227,228,229,230,231,232,233,234,235,236,237,238,239,240],
            "labelExpr": "datum.value % 7 == 0 && datum.value <= 238 ? ['2','11','23','1','12','22','5','14','25','3','12','24','3','14','23','4','13','24','3','13','22','31','11','20','3','12','23','2','11','22','31','11','20','29','13'][datum.value / 7] : ''",
            "labelAngle": -45, "labelColor": "#ffffff", "labelFont": "Liberation Sans", "labelFontWeight": "bold",
            "labelFontSize": 18, "labelPadding": 9, "labelOverlap": false, "labelFlush": false, "labelBound": false
          }
        },
        "y": {
          "field": "v", "type": "quantitative",
          "scale": {"domain": [100, 220], "nice": false, "zero": false},
          "axis": {
            "title": "DOLARES POR TONELADA", "titleColor": "#ffffff", "titleFont": "Liberation Sans",
            "titleFontSize": 24, "titleFontWeight": "bold", "titlePadding": 107,
            "values": [100,110,120,130,140,150,160,170,180,190,200,210,220],
            "grid": true, "gridColor": "#555555", "gridDash": [2, 2], "gridWidth": 1,
            "domainColor": "#000000", "domainWidth": 2, "tickColor": "#111111", "tickSize": 6,
            "labelColor": "#ffffff", "labelFont": "Liberation Sans", "labelFontWeight": "bold",
            "labelFontSize": 21, "labelPadding": 14
          }
        },
        "color": {
          "field": "s", "type": "nominal", "title": null,
          "scale": {"domain": ["DIC 21","DIC 20","DIC 19","DIC 18","Lineal ( DIC 21)"], "range": ["#0000ff","#000000","#008000","#000000","#ff0000"]},
          "legend": {"encode": {"symbols": {"update": {"strokeCap": {"value": "round"}}}}}
        },
        "strokeWidth": {
          "field": "s", "type": "nominal", "title": null,
          "scale": {"type": "ordinal", "domain": ["DIC 21","DIC 20","DIC 19","DIC 18","Lineal ( DIC 21)"], "range": [6.5, 6.5, 6.5, 1.7, 8]}
        }
      }
    },
    {
      "data": {"values": [{}]},
      "mark": {"type": "rect", "fill": "#88b5b3", "stroke": "#4a5a5a", "strokeWidth": 1.5},
      "encoding": {
        "x": {"datum": -0.88, "type": "quantitative"},
        "x2": {"datum": 239.7},
        "y": {"datum": 219.6, "type": "quantitative"},
        "y2": {"datum": 212.1}
      }
    },
    {
      "data": {"values": [
        {"m":"ENE","i":16},{"m":"FEB","i":34.4},{"m":"MAR","i":51.6},{"m":"ABR","i":71},{"m":"MAY","i":91.2},{"m":"JUN","i":109.5},
        {"m":"JUL","i":129.2},{"m":"AGO","i":151.4},{"m":"SEP","i":169.3},{"m":"OCT","i":188.5},{"m":"NOV","i":211.8}
      ]},
      "mark": {"type": "text", "font": "Liberation Sans", "fontWeight": "bold", "fontSize": 20, "color": "#000000", "align": "center", "baseline": "alphabetic"},
      "encoding": {
        "x": {"field": "i", "type": "quantitative"},
        "y": {"datum": 102.1, "type": "quantitative"},
        "text": {"field": "m"}
      }
    },
    {
      "data": {"values": [{}]},
      "mark": {"type": "rule", "color": "#0000ff", "strokeWidth": 10, "strokeCap": "butt"},
      "encoding": {
        "x": {"datum": 165.2, "type": "quantitative"}, "x2": {"datum": 165.2},
        "y": {"datum": 173.2, "type": "quantitative"}, "y2": {"datum": 155.6}
      }
    },
    {
      "data": {"values": [{}]},
      "mark": {"type": "point", "shape": "triangle-down", "filled": true, "opacity": 1, "color": "#0000ff", "size": 1156, "angle": 0},
      "encoding": {
        "x": {"datum": 165.1, "type": "quantitative"},
        "y": {"datum": 153.8, "type": "quantitative"}
      }
    },
    {
      "data": {"values": [{}]},
      "mark": {"type": "rule", "color": "#008000", "strokeWidth": 12, "strokeCap": "butt"},
      "encoding": {
        "x": {"datum": 183.0, "type": "quantitative"}, "x2": {"datum": 168.5},
        "y": {"datum": 158.9, "type": "quantitative"}, "y2": {"datum": 149.2}
      }
    },
    {
      "data": {"values": [{}]},
      "mark": {"type": "point", "shape": "triangle-down", "filled": true, "opacity": 1, "color": "#008000", "size": 1300, "angle": 54},
      "encoding": {
        "x": {"datum": 167.8, "type": "quantitative"},
        "y": {"datum": 148.7, "type": "quantitative"}
      }
    },
    {
      "data": {"values": [{}]},
      "mark": {"type": "rule", "color": "#000000", "strokeWidth": 12, "strokeCap": "butt"},
      "encoding": {
        "x": {"datum": 177.9, "type": "quantitative"}, "x2": {"datum": 167.2},
        "y": {"datum": 127.9, "type": "quantitative"}, "y2": {"datum": 137.5}
      }
    },
    {
      "data": {"values": [{}]},
      "mark": {"type": "point", "shape": "triangle-down", "filled": true, "opacity": 1, "color": "#000000", "size": 1300, "angle": 133},
      "encoding": {
        "x": {"datum": 166.6, "type": "quantitative"},
        "y": {"datum": 138.1, "type": "quantitative"}
      }
    },
    {
      "data": {"values": [{}]},
      "mark": {"type": "text", "font": "Lato", "fontWeight": "bold", "fontSize": 43, "color": "#0000ff", "align": "center", "baseline": "alphabetic"},
      "encoding": {
        "x": {"datum": 162.9, "type": "quantitative"},
        "y": {"datum": 174.85, "type": "quantitative"},
        "text": {"value": "$150.50 USD"}
      }
    },
    {
      "data": {"values": [{}]},
      "mark": {"type": "text", "font": "Lato", "fontWeight": "bold", "fontSize": 43, "color": "#008000", "align": "center", "baseline": "alphabetic"},
      "encoding": {
        "x": {"datum": 199.3, "type": "quantitative"},
        "y": {"datum": 162.1, "type": "quantitative"},
        "text": {"value": "$144.20 USD"}
      }
    },
    {
      "data": {"values": [{}]},
      "mark": {"type": "text", "font": "Lato", "fontWeight": "bold", "fontSize": 43, "color": "#000000", "align": "center", "baseline": "alphabetic"},
      "encoding": {
        "x": {"datum": 202.0, "type": "quantitative"},
        "y": {"datum": 123.0, "type": "quantitative"},
        "text": {"value": "$139.55 USD"}
      }
    }
  ]
}
